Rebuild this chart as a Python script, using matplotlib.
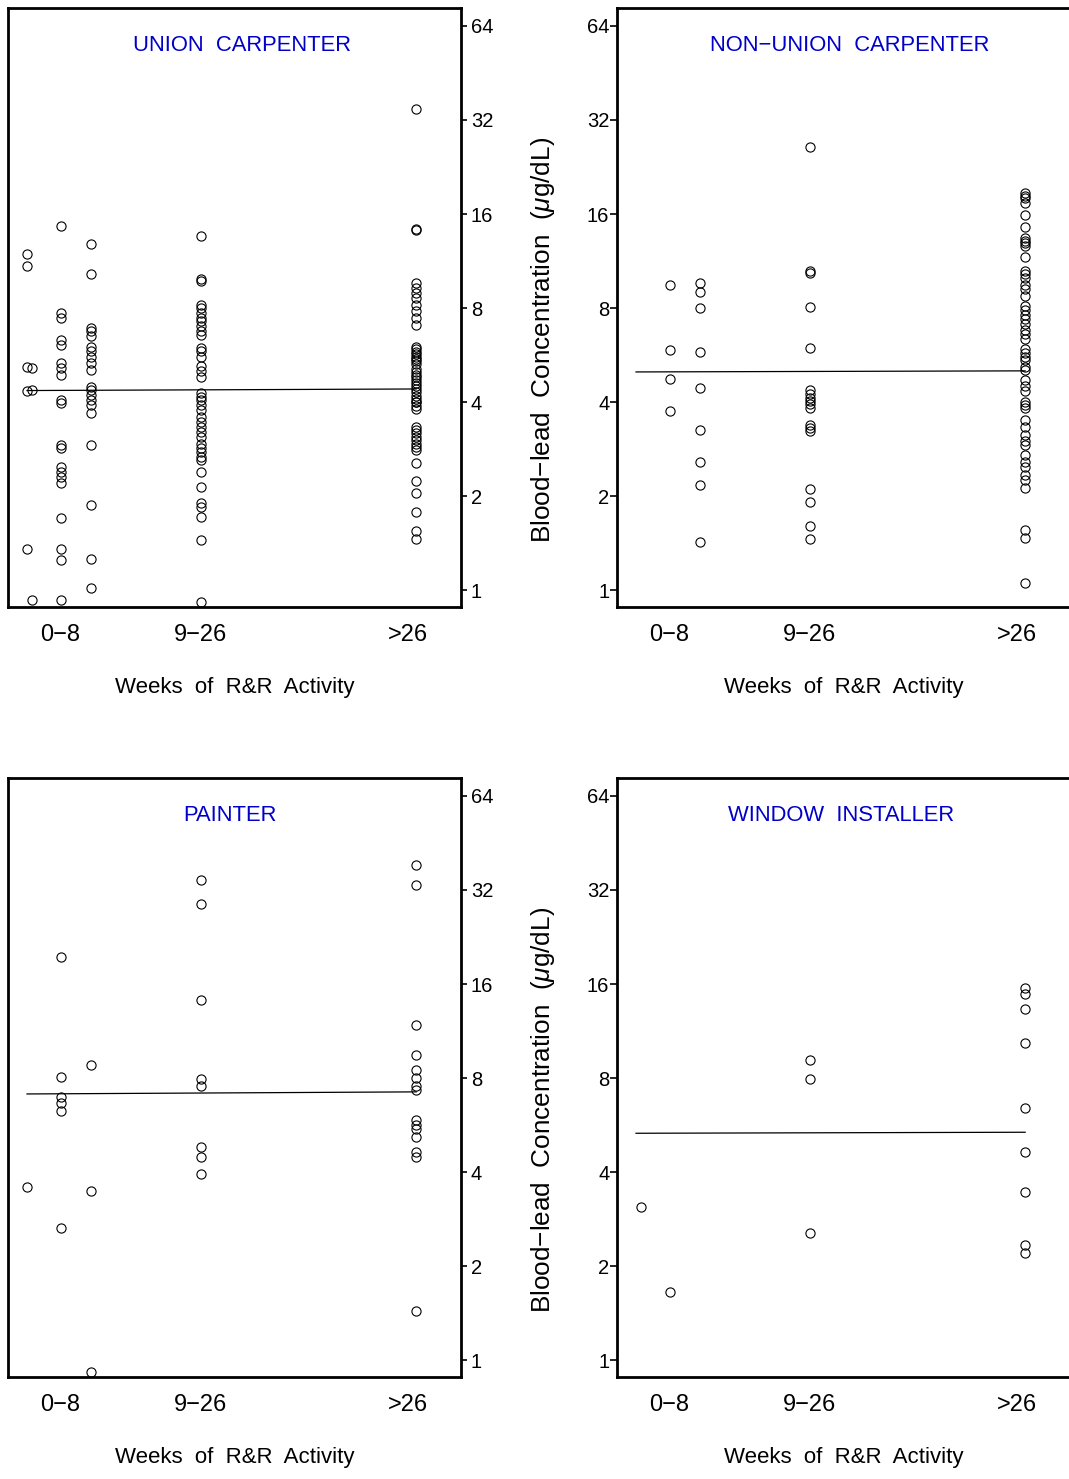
import matplotlib
matplotlib.use("Agg")
import matplotlib.pyplot as plt
from matplotlib.ticker import NullLocator

# ---------------- data ----------------
# x positions of the point columns (arbitrary week-activity scale, 0..100)
XPOS = {"a": 4.2, "b": 5.3, "c": 11.7, "d": 18.3, "e": 42.6, "f": 90.1}
XTICKS = [11.5, 42.6, 88.3]
XTICKLABELS = ["0\u22128", "9\u221226", ">26"]
YTICKS = [1, 2, 4, 8, 16, 32, 64]
YLIM = (0.885, 73.0)

titles = ["UNION  CARPENTER", "NON\u2212UNION  CARPENTER", "PAINTER", "WINDOW  INSTALLER"]

# Union carpenter
uc_a = [11.9, 10.9, 5.2, 4.36, 1.36]
uc_b = [5.14, 4.38, 0.93]
uc_c = [14.6, 7.72, 7.44, 6.34, 6.11, 5.34, 5.14, 4.90, 4.07, 3.97, 2.92, 2.85,
        2.49, 2.40, 2.31, 2.20, 1.70, 1.36, 1.25, 0.93]
uc_d = [12.8, 10.25, 6.91, 6.74, 6.50, 6.03, 5.82, 5.60, 5.34, 5.08, 4.49, 4.38,
        4.22, 4.07, 3.92, 3.69, 2.92, 1.87, 1.26, 1.02]
uc_e = [13.6, 9.88, 9.75, 8.21, 8.01, 7.72, 7.44, 7.26, 6.99, 6.74, 6.58, 5.96,
        5.82, 5.60, 5.21, 5.02, 4.83, 4.28, 4.17, 4.07, 3.92, 3.78, 3.60, 3.47,
        3.34, 3.22, 3.10, 2.95, 2.85, 2.78, 2.68, 2.61, 2.40, 2.14, 1.90, 1.85,
        1.72, 1.45, 0.92]
uc_f = [34.7, 14.3, 14.2, 9.64, 9.29, 8.95, 8.63, 8.21, 7.81, 7.44, 7.08, 6.0,
        5.9, 5.8, 5.7, 5.6, 5.5, 5.4, 5.3, 5.1, 5.0, 4.9, 4.8, 4.7, 4.6, 4.5,
        4.4, 4.3, 4.2, 4.1, 4.0, 4.0, 3.9, 3.8, 3.34, 3.26, 3.18, 3.10, 3.03,
        2.95, 2.88, 2.81, 2.55, 2.24, 2.05, 1.78, 1.55, 1.46]
uc_fit = [4.36, 4.41]

# Non-union carpenter
nu_c = [9.50, 5.88, 4.74, 3.76]
nu_d = [9.61, 9.04, 8.0, 5.81, 4.44, 3.26, 2.58, 2.18, 1.43]
nu_e = [26.3, 10.5, 10.4, 8.09, 5.96, 4.38, 4.26, 4.13, 4.04, 3.95, 3.84, 3.38,
        3.31, 3.24, 2.11, 1.92, 1.61, 1.46]
nu_f = [18.7, 18.3, 18.0, 17.4, 15.9, 14.5, 13.4, 13.1, 12.9, 12.6, 11.7, 10.5,
        10.3, 10.0, 9.5, 9.2, 8.75, 8.15, 7.9, 7.6, 7.4, 7.1, 6.8, 6.6, 6.36,
        5.9, 5.75, 5.6, 5.47, 5.2, 5.08, 4.72, 4.5, 4.35, 4.0, 3.92, 3.84, 3.52,
        3.34, 3.14, 3.0, 2.92, 2.71, 2.58, 2.48, 2.34, 2.26, 2.13, 1.56, 1.47, 1.06]
nu_fit = [5.00, 5.04]

# Painter
pa_a = [3.59]
pa_c = [19.55, 8.07, 6.97, 6.67, 6.29, 2.65]
pa_d = [8.82, 3.49, 0.92]
pa_e = [34.5, 28.9, 14.2, 7.96, 7.56, 4.82, 4.48, 3.95]
pa_f = [38.5, 33.2, 11.84, 9.50, 8.50, 8.02, 7.56, 7.34, 5.88, 5.67, 5.50, 5.19,
        4.65, 4.48, 1.44]
pa_fit = [7.12, 7.23]

# Window installer
wi_b = [3.10]
wi_c = [1.66]
wi_e = [9.15, 7.96, 2.56]
wi_f = [15.55, 14.9, 13.3, 10.4, 6.42, 4.65, 3.46, 2.34, 2.21]
wi_fit = [5.33, 5.37]

panels = [
    {"title": titles[0], "cols": {"a": uc_a, "b": uc_b, "c": uc_c, "d": uc_d, "e": uc_e, "f": uc_f}, "fit": uc_fit},
    {"title": titles[1], "cols": {"c": nu_c, "d": nu_d, "e": nu_e, "f": nu_f}, "fit": nu_fit},
    {"title": titles[2], "cols": {"a": pa_a, "c": pa_c, "d": pa_d, "e": pa_e, "f": pa_f}, "fit": pa_fit},
    {"title": titles[3], "cols": {"b": wi_b, "c": wi_c, "e": wi_e, "f": wi_f}, "fit": wi_fit},
]
title_x = [0.516, 0.513, 0.490, 0.494]

# ---------------- style ----------------
plt.rcParams["mathtext.fontset"] = "custom"
plt.rcParams["mathtext.it"] = "Liberation Sans:italic"
plt.rcParams["mathtext.rm"] = "Liberation Sans"
FONT = ["Liberation Sans", "DejaVu Sans"]

W, H = 1069, 1479
fig = plt.figure(figsize=(W / 100, H / 100), dpi=100)


def rect(l, t, r, b):
    return [l / W, 1 - b / H, (r - l) / W, (b - t) / H]


rects = [rect(8, 8, 461, 607), rect(617, 8, 1070, 607),
         rect(8, 778, 461, 1377), rect(617, 778, 1070, 1377)]

for i, (p, r) in enumerate(zip(panels, rects)):
    ax = fig.add_axes(r)
    ax.set_yscale("log", base=2)
    ax.set_ylim(*YLIM)
    ax.set_xlim(0, 100)
    for key, vals in p["cols"].items():
        ax.plot([XPOS[key]] * len(vals), vals, "o", mfc="none", mec="black",
                ms=6.6, mew=0.8, ls="none")
    ax.plot([XPOS["a"], XPOS["f"]], p["fit"], color="black", lw=0.9)

    ax.set_yticks(YTICKS)
    ax.set_yticklabels([str(v) for v in YTICKS], family=FONT)
    ax.yaxis.set_minor_locator(NullLocator())
    ax.set_xticks(XTICKS)
    ax.set_xticklabels(XTICKLABELS, family=FONT)
    left = (i % 2 == 0)
    if left:
        ax.yaxis.tick_right()
        ax.tick_params(axis="y", direction="out", length=4, width=1.2,
                       labelsize=14.5, pad=3)
    else:
        ax.yaxis.tick_left()
        ax.tick_params(axis="y", direction="out", length=5, width=1.2,
                       labelsize=14.5, pad=0.5)
    ax.tick_params(axis="x", length=0, labelsize=17, pad=12.5)
    for s in ax.spines.values():
        s.set_linewidth(2.0)

    ax.text(title_x[i], 0.937, p["title"], transform=ax.transAxes, ha="center",
            va="center", color="#0000C8", fontsize=15.8, family=FONT)
    ax.text(0.5, -80 / 599, "Weeks  of  R&R  Activity", transform=ax.transAxes,
            ha="center", va="center", fontsize=16, family=FONT)

ylab = "Blood\u2212lead  Concentration  ($\\mu$g/dL)"
for yc in (340, 1110):
    fig.text(543 / W, 1 - yc / H, ylab, rotation=90, ha="center", va="center",
             fontsize=18.8, family=FONT)

fig.savefig("out.png", dpi=100)
